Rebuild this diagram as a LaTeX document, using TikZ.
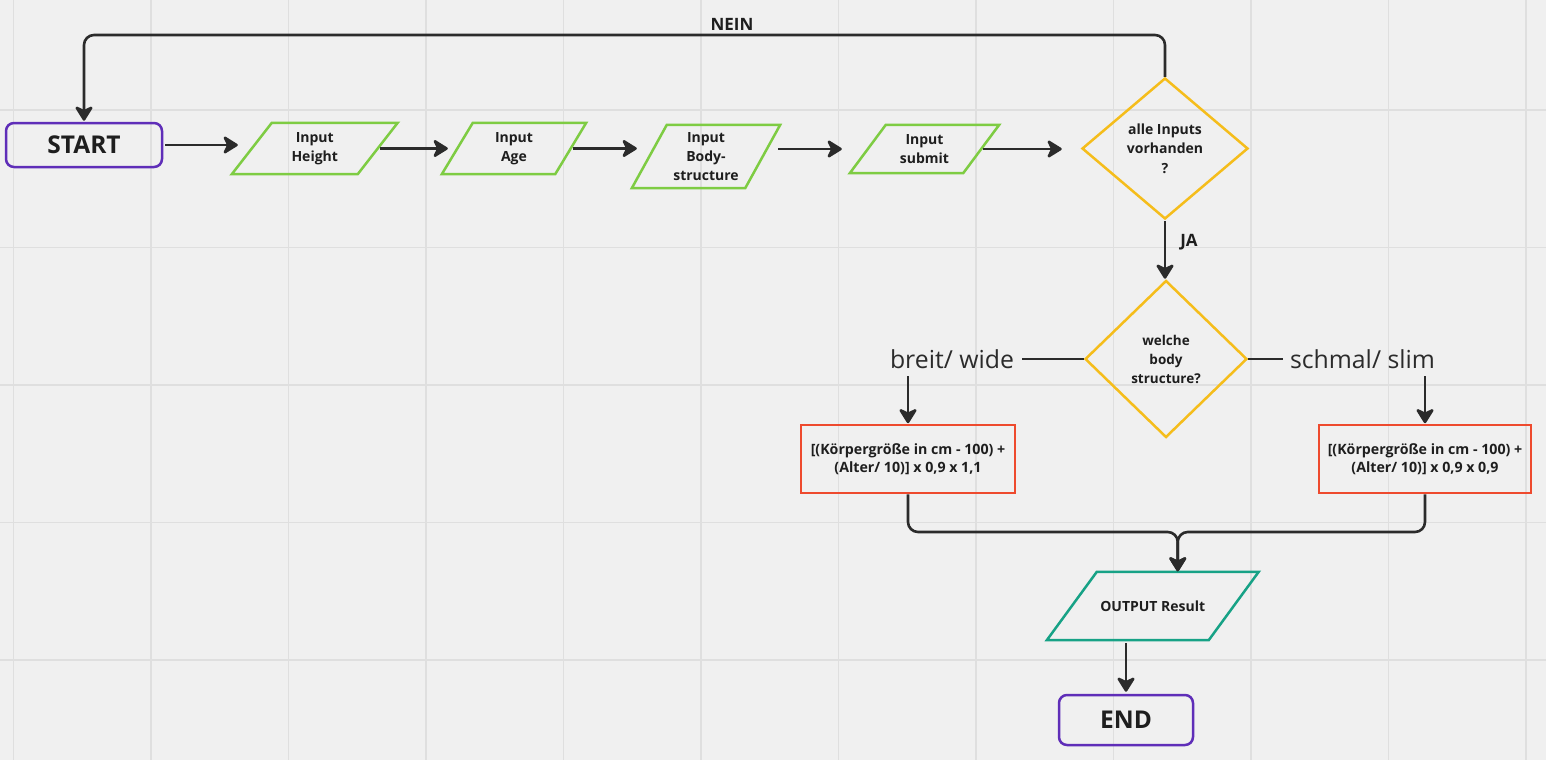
\documentclass[tikz,border=0pt]{standalone}
\usepackage{fontspec}
\setmainfont{Open Sans}
\usetikzlibrary{arrows.meta,shapes.geometric,calc}
\definecolor{bgc}{HTML}{F0F0F0}
\definecolor{gridc}{HTML}{DFDFDF}
\definecolor{linec}{HTML}{2B2B2B}
\definecolor{txtc}{HTML}{1E1E1E}
\definecolor{purp}{HTML}{5F2EB8}
\definecolor{grn}{HTML}{7ECC43}
\definecolor{yel}{HTML}{F5BD1B}
\definecolor{redc}{HTML}{EE4A2E}
\definecolor{tealc}{HTML}{17A286}
\newcommand\pgram[3]{\draw[draw=#3, line width=2.5pt, line join=miter]
  ([xshift=#2]#1.north west) -- ([xshift=#2]#1.north east) --
  ([xshift=-#2]#1.south east) -- ([xshift=-#2]#1.south west) -- cycle;}
\tikzset{
  term/.style={draw=purp, line width=2.5pt, rounded corners=8pt, inner sep=0pt,
    font=\fontsize{24.5}{28}\selectfont\bfseries, text=txtc},
  iobox/.style={inner sep=0pt, align=center,
    font=\fontsize{14}{19}\selectfont\bfseries, text=txtc},
  dec/.style={diamond, draw=yel, line width=2.5pt, inner sep=0pt, align=center, text=txtc},
  calcbox/.style={draw=redc, line width=2.5pt, inner sep=0pt, align=center,
    font=\fontsize{14.2}{18.5}\selectfont\bfseries, text=txtc,
    minimum width=214pt, minimum height=68pt},
  arr/.style={draw=linec, line width=2.6pt,
    -{Stealth[length=17pt,width=21pt,inset=5pt,round]}},
  conn/.style={draw=linec, line width=2.6pt},
  lbl/.style={inner sep=0pt, font=\fontsize{17}{20}\selectfont\bfseries, text=txtc},
  branch/.style={inner sep=0pt, font=\fontsize{24.8}{28}\selectfont, text=linec},
  gridline/.style={draw=gridc, line width=1.3pt}
}
\begin{document}
\begin{tikzpicture}[x=1pt,y=-1pt]
\useasboundingbox (0,0) rectangle (1546,760);
\fill[bgc] (0,0) rectangle (1546,760);
\foreach \i in {0,...,11} \draw[gridline] (13.5+137.5*\i,0) -- ++(0,760);
\foreach \j in {0,...,4} \draw[gridline] (0,110+137.5*\j) -- ++(1546,0);

% nodes
\node[term, minimum width=156pt, minimum height=44pt] (start) at (84,145) {START};
\node[iobox, minimum width=125.5pt, minimum height=51pt] (h) at (314.75,148.5) {Input\\Height};
\pgram{h}{20pt}{grn}
\node[iobox, minimum width=113pt, minimum height=51pt] (age) at (514,148.5) {Input\\Age};
\pgram{age}{15.5pt}{grn}
\node[iobox, minimum width=113pt, minimum height=63pt] (body) at (706,156.5) {Input\\Body-\\structure};
\pgram{body}{17.5pt}{grn}
\node[iobox, minimum width=113pt, minimum height=48pt] (sub) at (924.5,149) {Input\\submit};
\pgram{sub}{18pt}{grn}
\node[dec, minimum width=166pt, minimum height=141pt,
  font=\fontsize{14}{19.5}\selectfont\bfseries] (d1) at (1165,148.5) {alle Inputs\\vorhanden\\?};
\node[dec, minimum width=162pt, minimum height=157pt,
  font=\fontsize{13.5}{19}\selectfont\bfseries] (d2) at (1166,359) {welche\\body\\structure?};
\node[calcbox] (redL) at (908,459) {[(Körpergröße in cm - 100) +\\(Alter/ 10)] x 0,9 x 1,1};
\node[calcbox, minimum width=212pt] (redR) at (1425,459) {[(Körpergröße in cm - 100) +\\(Alter/ 10)] x 0,9 x 0,9};
\node[iobox, minimum width=161.5pt, minimum height=68pt] (out) at (1152.75,606) {OUTPUT Result};
\pgram{out}{25pt}{tealc}
\node[term, minimum width=134pt, minimum height=50pt] (endn) at (1126,720) {END};

% labels
\node[lbl] (nein) at (732,24) {NEIN};
\node[lbl] (ja) at (1189,242) {JA};
\node[branch] (bw) at (952,359) {breit/ wide};
\node[branch] (ss) at (1362.5,359) {schmal/ slim};

% coordinates
\coordinate (toprow) at (0,35);
\coordinate (bwa) at (908,376);
\coordinate (ssa) at (1425,376);
\coordinate (jy) at (0,532);
\coordinate (otop) at ([xshift=25pt]out.north);

% connectors
\draw[arr, shorten <=2pt, shorten >=14pt] (start.east) -- (start.east -| h.west);
\draw[arr, shorten <=2.5pt, shorten >=9.5pt] (h.east) -- (age.west);
\draw[arr, shorten <=2.5pt, shorten >=12.5pt] (age.east) -- (age.east -| body.west);
\draw[arr, shorten <=15.5pt, shorten >=26pt] (sub.west -| body.east) -- (sub.west);
\draw[arr, shorten <=2pt, shorten >=19pt] (sub.east) -- (sub.east -| d1.west);
\draw[arr, rounded corners=10pt, shorten >=1pt] (d1.north) |- (start.north |- toprow) -- (start.north);
\draw[arr, shorten <=1pt, shorten >=0.5pt] (d1.south) -- (d1.south |- d2.north);
\draw[conn, shorten >=8pt] (d2.west) -- (bw.east);
\draw[conn, shorten >=7pt] (d2.east) -- (ss.west);
\draw[arr, shorten >=0.5pt] (bwa) -- (redL.north);
\draw[arr, shorten >=0.5pt] (ssa) -- (redR.north);
\draw[arr, rounded corners=10pt, shorten >=0.5pt] (redL.south) |- (otop |- jy) -- (otop);
\draw[arr, rounded corners=10pt, shorten >=0.5pt] (redR.south) |- (otop |- jy) -- (otop);
\draw[arr, shorten <=3pt, shorten >=2pt] (out.south -| endn.north) -- (endn.north);
\end{tikzpicture}
\end{document}
